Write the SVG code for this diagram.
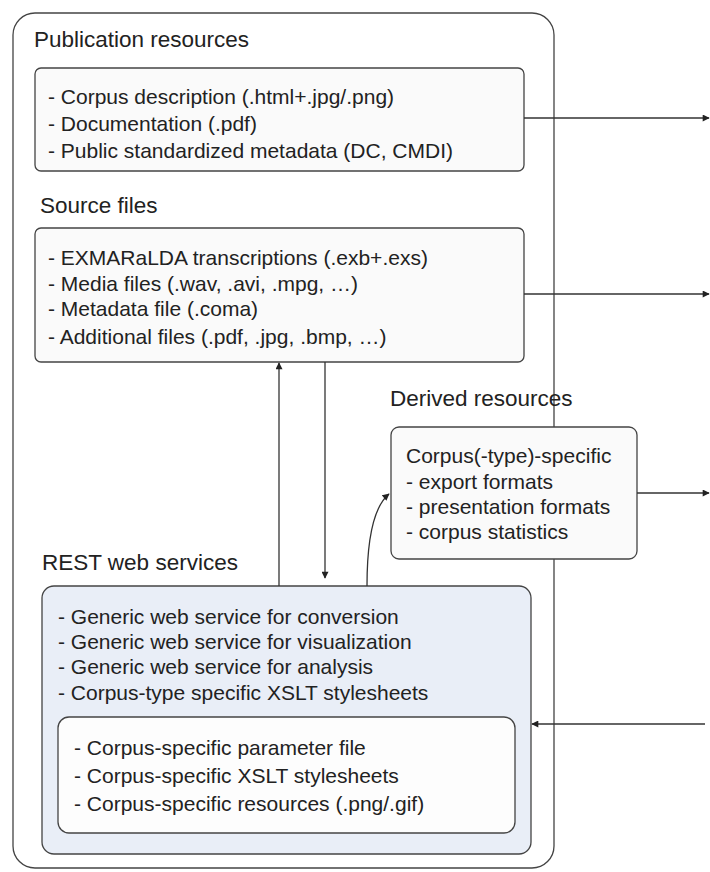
<svg xmlns="http://www.w3.org/2000/svg" width="710" height="872" viewBox="0 0 710 872">
  <defs>
    <marker id="arrow" viewBox="0 0 10 10" refX="9" refY="5" markerWidth="8" markerHeight="7" markerUnits="userSpaceOnUse" orient="auto">
      <path d="M0,0 L10,5 L0,10 z" fill="#222"/>
    </marker>
  </defs>
  <style>
    text { font-family: "Liberation Sans", Arial, sans-serif; fill: #222; }
    .title { font-size: 22.5px; }
    .item { font-size: 21px; }
    .box { stroke: #444; stroke-width: 1.3; }
    .edge { fill: none; stroke: #333; stroke-width: 1.3; marker-end: url(#arrow); }
  </style>
  <rect width="710" height="872" fill="#ffffff"/>

  <!-- outer container -->
  <g id="container">
    <rect class="box" x="13" y="13" width="541" height="855" rx="22" fill="#ffffff"/>
  </g>

  <g id="publication">
    <text class="title" x="34" y="47">Publication resources</text>
    <rect class="box" x="35" y="68" width="489" height="103" rx="6" fill="#fafafa"/>
    <text class="item" x="48" y="104">- Corpus description (.html+.jpg/.png)</text>
    <text class="item" x="48" y="131">- Documentation (.pdf)</text>
    <text class="item" x="48" y="158">- Public standardized metadata (DC, CMDI)</text>
  </g>

  <g id="source">
    <text class="title" x="40" y="213">Source files</text>
    <rect class="box" x="35" y="228" width="489" height="134" rx="6" fill="#fafafa"/>
    <text class="item" x="48" y="265">- EXMARaLDA transcriptions (.exb+.exs)</text>
    <text class="item" x="48" y="291">- Media files (.wav, .avi, .mpg, …)</text>
    <text class="item" x="48" y="316">- Metadata file (.coma)</text>
    <text class="item" x="48" y="344">- Additional files (.pdf, .jpg, .bmp, …)</text>
  </g>

  <g id="derived">
    <text class="title" x="390" y="406">Derived resources</text>
    <rect class="box" x="391" y="427" width="246" height="132" rx="8" fill="#fafafa"/>
    <text class="item" x="406" y="463">Corpus(-type)-specific</text>
    <text class="item" x="406" y="489"> - export formats</text>
    <text class="item" x="406" y="514"> - presentation formats</text>
    <text class="item" x="406" y="539"> - corpus statistics</text>
  </g>

  <g id="rest">
    <text class="title" x="42" y="570">REST web services</text>
    <rect class="box" x="42" y="586" width="489" height="268" rx="12" fill="#e9eef7"/>
    <text class="item" x="58" y="624">- Generic web service for conversion</text>
    <text class="item" x="58" y="649">- Generic web service for visualization</text>
    <text class="item" x="58" y="674">- Generic web service for analysis</text>
    <text class="item" x="58" y="700">- Corpus-type specific XSLT stylesheets</text>
  </g>

  <g id="corpus-specific">
    <rect class="box" x="58" y="717" width="457" height="116" rx="11" fill="#fdfdfd"/>
    <text class="item" x="74" y="755">- Corpus-specific parameter file</text>
    <text class="item" x="74" y="783">- Corpus-specific XSLT stylesheets</text>
    <text class="item" x="74" y="811">- Corpus-specific resources (.png/.gif)</text>
  </g>

  <g id="connectors">
    <line class="edge" x1="524" y1="118" x2="709" y2="118"/>
    <line class="edge" x1="524" y1="294" x2="709" y2="294"/>
    <line class="edge" x1="637" y1="493" x2="709" y2="493"/>
    <line class="edge" x1="705" y1="724" x2="532" y2="724"/>
    <line class="edge" x1="279" y1="586" x2="279" y2="363"/>
    <line class="edge" x1="325" y1="362" x2="325" y2="578"/>
    <path class="edge" d="M367,586 C367,545 372,508 389,494"/>
  </g>
</svg>
